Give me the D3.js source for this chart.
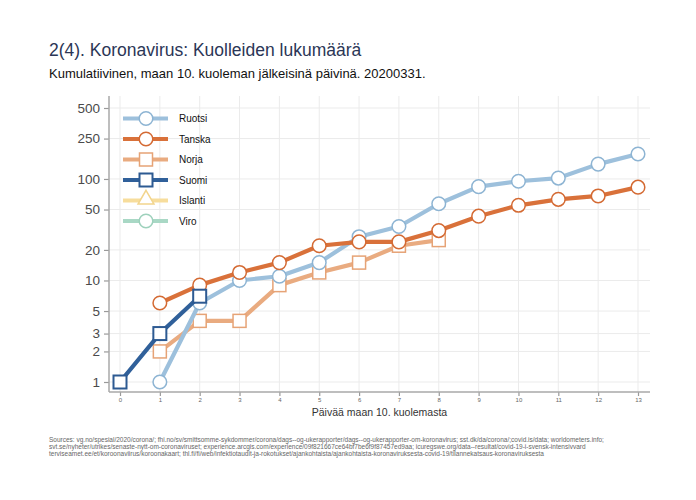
<!DOCTYPE html>
<html>
<head>
<meta charset="utf-8">
<script src="https://cdn.jsdelivr.net/npm/d3@7"></script>
<style>
  body { margin: 0; background: #fff; }
  text { font-family: "Liberation Sans", Arial, Helvetica, sans-serif; }
</style>
</head>
<body>
<div id="chart"></div>
<script>
// Data
const days = [0, 1, 2, 3, 4, 5, 6, 7, 8, 9, 10, 11, 12, 13];
const yTicks = [1, 2, 3, 5, 10, 20, 50, 100, 250, 500];

const ruotsiDays = [1, 2, 3, 4, 5, 6, 7, 8, 9, 10, 11, 12, 13];
const ruotsiDeaths = [1, 6, 10, 11, 15, 27, 34, 57, 84, 95, 102, 140, 176];

const tanskaDays = [1, 2, 3, 4, 5, 6, 7, 8, 9, 10, 11, 12, 13];
const tanskaDeaths = [6, 9, 12, 15, 22, 24, 24, 31, 43, 55, 63, 68, 83];

const norjaDays = [1, 2, 3, 4, 5, 6, 7, 8];
const norjaDeaths = [2, 4, 4, 9, 12, 15, 22, 25];

const suomiDays = [0, 1, 2];
const suomiDeaths = [1, 3, 7];

const islantiDays = [];
const islantiDeaths = [];
const viroDays = [];
const viroDeaths = [];

const countries = ["Ruotsi", "Tanska", "Norja", "Suomi", "Islanti", "Viro"];

const sources = [
    "Sources: vg.no/spesial/2020/corona/; fhi.no/sv/smittsomme-sykdommer/corona/dags--og-ukerapporter/dags--og-ukerapporter-om-koronavirus; sst.dk/da/corona/;covid.is/data; worldometers.info;",
    "svt.se/nyheter/utrikes/senaste-nytt-om-coronaviruset; experience.arcgis.com/experience/09f821667ce64bf7be6f9f87457ed9aa; icuregswe.org/data--resultat/covid-19-i-svensk-intensivvard",
    "terviseamet.ee/et/koroonaviirus/koroonakaart; thl.fi/fi/web/infektiotaudit-ja-rokotukset/ajankohtaista/ajankohtaista-koronaviruksesta-covid-19/tilannekatsaus-koronaviruksesta"
];

const zip = (xs, ys) => xs.map((d, i) => ({day: d, deaths: ys[i]}));
const series = [
    {name: "Ruotsi", color: "#9dc0dc", stroke: "#8db4d3", symbol: "circle", values: zip(ruotsiDays, ruotsiDeaths)},
    {name: "Tanska", color: "#d9713a", stroke: "#d46a33", symbol: "circle", values: zip(tanskaDays, tanskaDeaths)},
    {name: "Norja", color: "#e9ab80", stroke: "#e6a376", symbol: "square", values: zip(norjaDays, norjaDeaths)},
    {name: "Suomi", color: "#30609a", stroke: "#2d5a92", symbol: "square", values: zip(suomiDays, suomiDeaths)},
    {name: "Islanti", color: "#f7dd9c", stroke: "#f2d58d", symbol: "triangle", values: zip(islantiDays, islantiDeaths)},
    {name: "Viro", color: "#a9d8c5", stroke: "#9ed1bc", symbol: "circle", values: zip(viroDays, viroDeaths)}
];

const W = 696, H = 500;
const plot = {left: 109, right: 650, top: 96, bottom: 392};

const svg = d3.select("#chart").append("svg")
    .attr("width", W)
    .attr("height", H);

const x = d3.scaleLinear().domain([0, 13]).range([120, 638]);
const y = d3.scaleLog().domain([1, 500]).range([382, 108]);

// Gridlines
svg.append("g").selectAll("line.vg")
    .data(days).enter().append("line")
    .attr("x1", d => x(d)).attr("x2", d => x(d))
    .attr("y1", plot.top).attr("y2", plot.bottom)
    .style("stroke", "#ebebeb").style("stroke-width", 1);
svg.append("g").selectAll("line.hg")
    .data(yTicks).enter().append("line")
    .attr("x1", plot.left).attr("x2", plot.right)
    .attr("y1", d => y(d)).attr("y2", d => y(d))
    .style("stroke", "#ebebeb").style("stroke-width", 1);

// Axes
const yAxis = svg.append("g")
    .attr("transform", "translate(" + plot.left + ",0)")
    .call(d3.axisLeft(y).tickValues(yTicks).tickFormat(d3.format("d")).tickSize(5).tickPadding(4));
yAxis.select(".domain").remove();
yAxis.selectAll("line").style("stroke", "#9a9a9a").style("stroke-width", 1.2);
yAxis.selectAll("text").style("font-size", "13.5px").style("fill", "#4a4a4a");

const xAxis = svg.append("g")
    .attr("transform", "translate(0," + plot.bottom + ")")
    .call(d3.axisBottom(x).tickValues(days).tickFormat(d3.format("d")).tickSize(4).tickPadding(2));
xAxis.select(".domain").remove();
xAxis.selectAll("line").style("stroke", "#9a9a9a").style("stroke-width", 1.2);
xAxis.selectAll("text").style("font-size", "6px").style("fill", "#666");

svg.append("line")
    .attr("x1", plot.left).attr("x2", plot.left)
    .attr("y1", plot.top).attr("y2", plot.bottom)
    .style("stroke", "#a8a8a8").style("stroke-width", 1.5);
svg.append("line")
    .attr("x1", plot.left).attr("x2", plot.right)
    .attr("y1", plot.bottom).attr("y2", plot.bottom)
    .style("stroke", "#a8a8a8").style("stroke-width", 1.5);

svg.append("text")
    .attr("x", (plot.left + plot.right) / 2)
    .attr("y", 416)
    .attr("text-anchor", "middle")
    .style("font-size", "10.5px")
    .style("fill", "#333")
    .text("Päivää maan 10. kuolemasta");

// Marker helper
function drawMarker(g, s, cx, cy) {
    if (s.symbol === "circle") {
        g.append("circle").attr("cx", cx).attr("cy", cy).attr("r", 6.8)
            .style("fill", "#fff").style("stroke", s.stroke).style("stroke-width", 1.5);
    } else if (s.symbol === "square") {
        g.append("rect").attr("x", cx - 6.5).attr("y", cy - 6.5)
            .attr("width", 13).attr("height", 13)
            .style("fill", "#fff").style("stroke", s.stroke)
            .style("stroke-width", s.name === "Suomi" ? 2 : 1.5);
    } else {
        g.append("path")
            .attr("d", d3.symbol().type(d3.symbolTriangle).size(110)())
            .attr("transform", "translate(" + cx + "," + (cy - 1) + ")")
            .style("fill", "#fff").style("stroke", s.stroke).style("stroke-width", 1.5);
    }
}

// Lines and markers
const line = d3.line().x(d => x(d.day)).y(d => y(d.deaths));
const drawOrder = ["Norja", "Ruotsi", "Tanska", "Suomi", "Islanti", "Viro"];
drawOrder.forEach(name => {
    const s = series.find(t => t.name === name);
    if (!s.values.length) return;
    const g = svg.append("g");
    g.append("path")
        .datum(s.values)
        .attr("d", line)
        .style("fill", "none")
        .style("stroke", s.color)
        .style("stroke-width", 4.2)
        .style("stroke-linejoin", "round");
    s.values.forEach(d => drawMarker(g, s, x(d.day), y(d.deaths)));
});

// Legend
const legend = svg.append("g");
countries.forEach((name, i) => {
    const s = series.find(t => t.name === name);
    const ly = 118.5 + i * 20.5;
    const g = legend.append("g");
    g.append("line")
        .attr("x1", 123).attr("x2", 168)
        .attr("y1", ly).attr("y2", ly)
        .style("stroke", s.color).style("stroke-width", 4.2);
    drawMarker(g, s, 146, ly);
    g.append("text")
        .attr("x", 179).attr("y", ly + 3.5)
        .style("font-size", "10px")
        .style("fill", "#111")
        .text(name);
});

// Titles
svg.append("text")
    .attr("x", 49).attr("y", 56)
    .style("font-size", "17.5px")
    .style("fill", "#2b3656")
    .text("2(4). Koronavirus: Kuolleiden lukumäärä");
svg.append("text")
    .attr("x", 49).attr("y", 78)
    .style("font-size", "13px")
    .style("fill", "#111")
    .text("Kumulatiivinen, maan 10. kuoleman jälkeisinä päivinä. 20200331.");

// Sources
svg.append("g").selectAll("text")
    .data(sources).enter().append("text")
    .attr("x", 49)
    .attr("y", (d, i) => 442 + i * 7)
    .style("font-size", "6.5px")
    .style("fill", "#666")
    .text(d => d);
</script>
</body>
</html>
